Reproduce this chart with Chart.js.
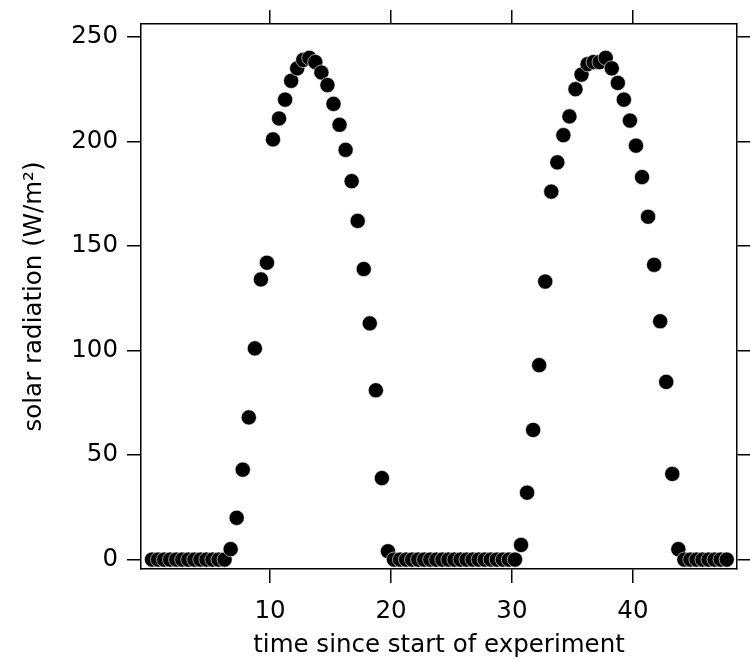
<!DOCTYPE html>
<html>
<head>
<meta charset="utf-8">
<script src="https://cdn.jsdelivr.net/npm/chart.js@4"></script>
<style>
  body { margin: 0; background: #fff; }
</style>
</head>
<body>
<canvas id="radChart" width="750" height="660"></canvas>
<script>
// time since start (h), one reading every 30 min
let timeHours = [
  0.25, 0.75, 1.25, 1.75, 2.25, 2.75, 3.25, 3.75, 4.25, 4.75, 5.25, 5.75,
  6.25, 6.75, 7.25, 7.75, 8.25, 8.75, 9.25, 9.75, 10.25, 10.75, 11.25, 11.75,
  12.25, 12.75, 13.25, 13.75, 14.25, 14.75, 15.25, 15.75, 16.25, 16.75, 17.25, 17.75,
  18.25, 18.75, 19.25, 19.75, 20.25, 20.75, 21.25, 21.75, 22.25, 22.75, 23.25, 23.75,
  24.25, 24.75, 25.25, 25.75, 26.25, 26.75, 27.25, 27.75, 28.25, 28.75, 29.25, 29.75,
  30.25, 30.75, 31.25, 31.75, 32.25, 32.75, 33.25, 33.75, 34.25, 34.75, 35.25, 35.75,
  36.25, 36.75, 37.25, 37.75, 38.25, 38.75, 39.25, 39.75, 40.25, 40.75, 41.25, 41.75,
  42.25, 42.75, 43.25, 43.75, 44.25, 44.75, 45.25, 45.75, 46.25, 46.75, 47.25, 47.75
];

// solar radiation (W/m2)
let radiation = [
  0, 0, 0, 0, 0, 0, 0, 0, 0, 0, 0, 0,
  0, 5, 20, 43, 68, 101, 134, 142, 201, 211, 220, 229,
  235, 239, 240, 238, 233, 227, 218, 208, 196, 181, 162, 139,
  113, 81, 39, 4, 0, 0, 0, 0, 0, 0, 0, 0,
  0, 0, 0, 0, 0, 0, 0, 0, 0, 0, 0, 0,
  0, 7, 32, 62, 93, 133, 176, 190, 203, 212, 225, 232,
  237, 238, 238, 240, 235, 228, 220, 210, 198, 183, 164, 141,
  114, 85, 41, 5, 0, 0, 0, 0, 0, 0, 0, 0
];

let xTicks = [10, 20, 30, 40];
let yTicks = [0, 50, 100, 150, 200, 250];

let xTitle = 'time since start of experiment';
let yTitle = 'solar radiation (W/m\u00B2)';

let fontSize = 24.5;

Chart.defaults.font.family = '"DejaVu Sans", sans-serif';
Chart.defaults.color = '#000';

function makePoints() {
  let points = [];
  for (let i = 0; i < timeHours.length; i++) {
    points.push({ x: timeHours[i], y: radiation[i] });
  }
  return points;
}

// every side of the frame is an axis with outward ticks
function axis(pos, tickVals, opts) {
  let isX = pos === 'top' || pos === 'bottom';
  let base = {
    type: 'linear',
    position: pos,
    min: isX ? -0.66 : -4.5,
    max: isX ? 48.6 : 256.2,
    afterBuildTicks: function (scale) {
      scale.ticks = tickVals.map(function (v) { return { value: v }; });
    },
    grid: {
      drawOnChartArea: false,
      drawTicks: true,
      tickLength: 14,
      color: '#000',
      lineWidth: 1.5,
    },
    border: { display: true, color: '#000', width: 1.5 },
    ticks: { display: false },
  };
  return Object.assign(base, opts);
}

let ctx = document.getElementById('radChart');
new Chart(ctx, {
  type: 'scatter',
  data: {
    datasets: [
      {
        data: makePoints(),
        backgroundColor: '#000',
        borderColor: '#fff',
        borderWidth: 0.6,
        pointRadius: 7.6,
        pointHoverRadius: 7.6,
      },
    ],
  },
  options: {
    responsive: false,
    animation: false,
    clip: false,
    layout: { padding: 0 },
    plugins: {
      legend: { display: false },
      tooltip: { enabled: false },
    },
    scales: {
      x: axis('bottom', xTicks, {
        afterFit: function (s) { s.height = 91; },
        ticks: { display: true, font: { size: fontSize }, color: '#000', padding: 14, maxRotation: 0 },
        title: { display: true, text: xTitle, font: { size: fontSize }, color: '#000', padding: { top: 0, bottom: 0 } },
      }),
      y: axis('left', yTicks, {
        afterFit: function (s) { s.width = 141; },
        ticks: { display: true, font: { size: fontSize }, color: '#000', padding: 9 },
        title: { display: true, text: yTitle, font: { size: fontSize }, color: '#000', padding: { top: 20, bottom: 0 } },
      }),
      x2: axis('top', xTicks, {
        axis: 'x',
        afterFit: function (s) { s.height = 24; },
      }),
      y2: axis('right', yTicks, {
        axis: 'y',
        afterFit: function (s) { s.width = 13; },
      }),
    },
  },
});
</script>
</body>
</html>
